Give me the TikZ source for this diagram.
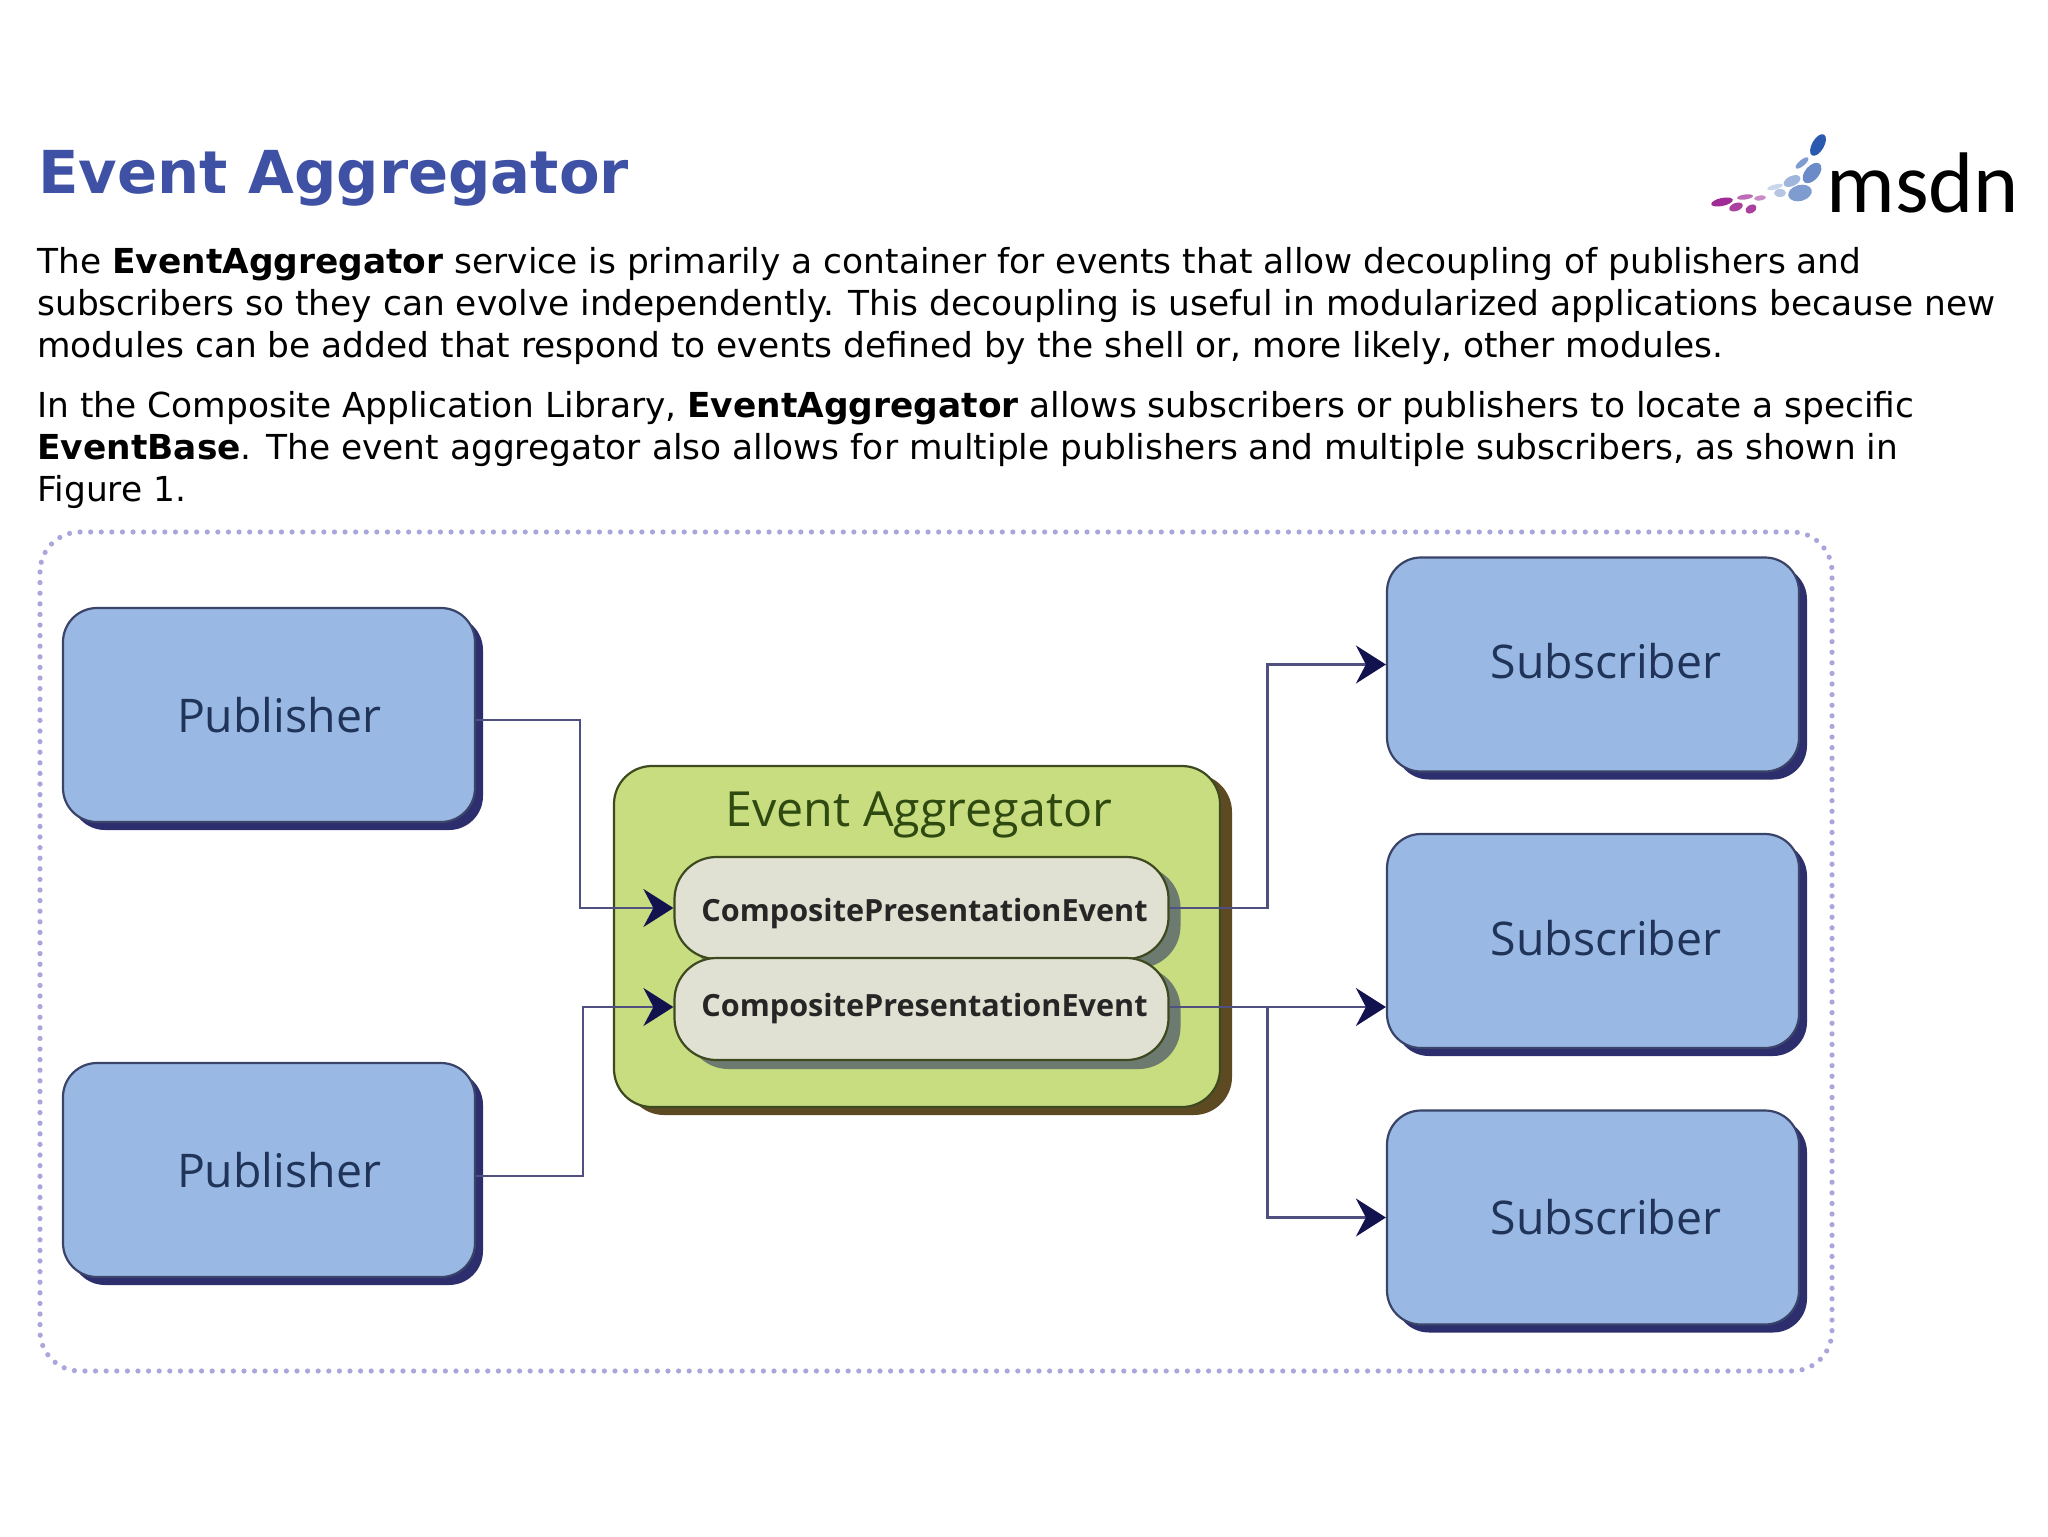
\documentclass[tikz,border=0pt]{standalone}
\usepackage{fontspec}
\setmainfont{DejaVu Sans}
\newfontfamily\boxfont{Open Sans}
\newfontfamily\logofont{Carlito}
\usetikzlibrary{arrows.meta,shadows}
\definecolor{titleblue}{HTML}{3F51A5}
\definecolor{framedot}{HTML}{A9A6DC}
\definecolor{boxblue}{HTML}{9AB8E4}
\definecolor{boxedge}{HTML}{3A4468}
\definecolor{boxshade}{HTML}{2C2E6E}
\definecolor{boxtext}{HTML}{1F3458}
\definecolor{aggfill}{HTML}{C8DC80}
\definecolor{aggedge}{HTML}{3D4A20}
\definecolor{aggshade}{HTML}{5E4A22}
\definecolor{aggtext}{HTML}{2F4A10}
\definecolor{evfill}{HTML}{E1E1D3}
\definecolor{evshade}{HTML}{6C7A70}
\definecolor{flowline}{HTML}{4F5080}
\definecolor{flowtip}{HTML}{12124F}
\definecolor{msdnblue}{HTML}{2A5AB0}
\definecolor{msdnpurple}{HTML}{A02B96}
\tikzset{
  actor/.style={draw=boxedge, line width=1.1pt, fill=boxblue, rounded corners=17pt, inner sep=0,
    minimum width=206pt, minimum height=107pt, text=boxtext, font=\boxfont\fontsize{23.2}{28}\selectfont,
    drop shadow={shadow xshift=4pt, shadow yshift=-4pt, opacity=1, fill=boxshade}},
  flow/.style={draw=flowline, line width=1.3pt, -{Stealth[length=15pt, width=19pt, inset=5pt, color=flowtip]}},
  para/.style={anchor=west, align=left, inner sep=0, font=\fontsize{17.2}{21}\selectfont}
}
\begin{document}
\begin{tikzpicture}[x=0.5pt, y=-0.5pt]
    \useasboundingbox (0, 0) rectangle (2048, 1536);
    \node (title) [anchor=base west, inner sep=0, text=titleblue, font=\bfseries\fontsize{29.6}{36}\selectfont] at (38, 193) {Event Aggregator};
    \node (intro) [para] at (37, 306) {The \textbf{EventAggregator} service is primarily a container for events that allow decoupling of publishers and\\
      subscribers so they can evolve independently. This decoupling is useful in modularized applications because new\\
      modules can be added that respond to events defined by the shell or, more likely, other modules.};
    \node (more) [para] at (37, 450) {In the Composite Application Library, \textbf{EventAggregator} allows subscribers or publishers to locate a specific\\
      \textbf{EventBase}. The event aggregator also allows for multiple publishers and multiple subscribers, as shown in\\
      Figure 1.};
    % logo
    \foreach \x/\y/\rx/\ry/\a/\c in {
      1818/145/12/6/60/msdnblue, 1802/163/8/3/40/msdnblue!60!white, 1812/173/12/7/50/msdnblue!70!white,
      1792/181/9/5/25/msdnblue!45!white, 1775/187/8/2.5/15/msdnblue!25!white, 1800/193/12/8/15/msdnblue!60!white,
      1780/193/6/4/0/msdnblue!35!white, 1722/202/11/4/12/msdnpurple, 1745/197/8/2.5/8/msdnpurple!70!white,
      1760/198/6/2.5/8/msdnpurple!55!white, 1736/207/7/4/20/msdnpurple!90!white, 1751/209/6/4/30/msdnpurple!90!white}
    \fill[\c, rotate around={\a:(\x, \y)}] (\x, \y) ellipse ({\rx*0.5pt} and {\ry*0.5pt});
    \node (logo) [anchor=base west, inner sep=0, font=\logofont\fontsize{43}{48}\selectfont] at (1826, 212) {msdn};
    % figure
    \draw[framedot, line width=2.6pt, dash pattern=on 0pt off 5.3pt, line cap=round, rounded corners=20pt] (40, 532) rectangle (1832, 1371);
    \node (pub1) [actor] at (269, 715) {\hspace{10pt}Publisher};
    \node (pub2) [actor] at (269, 1170) {\hspace{10pt}Publisher};
    \node (sub1) [actor] at (1593, 664.5) {\hspace{13pt}\raisebox{1.6pt}[\height][\depth]{Subscriber}};
    \node (sub2) [actor] at (1593, 941) {\hspace{13pt}\raisebox{1.6pt}[\height][\depth]{Subscriber}};
    \node (sub3) [actor] at (1593, 1217.5) {\hspace{13pt}Subscriber};
    \node (agg) [draw=aggedge, line width=1.1pt, fill=aggfill, rounded corners=19pt, inner sep=0, minimum width=303pt, minimum height=170.5pt,
      drop shadow={shadow xshift=6pt, shadow yshift=-4pt, opacity=1, fill=aggshade}] at (917, 936.5) {};
    \node (agglabel) [text=aggtext, inner sep=0, font=\boxfont\fontsize{24.2}{28}\selectfont] at (919, 815) {Event Aggregator};
    \foreach \n/\y/\s in {ev1/908/-2.6, ev2/1009/0}
    \node (\n) [draw=aggedge, line width=1.1pt, fill=evfill, rounded corners=21pt, inner sep=0, minimum width=247pt, minimum height=51pt,
      text=black!85, font=\boxfont\bfseries\fontsize{15.3}{18}\selectfont,
      drop shadow={shadow xshift=6pt, shadow yshift=-4.5pt, opacity=1, fill=evshade}] at (921.5, \y) {\hspace{3pt}\raisebox{\s pt}[\height][\depth]{CompositePresentationEvent}};
    \draw[flow] ([yshift=-2.5pt]pub1.east) -- ++(104, 0) |- (ev1.west);
    \draw[flow] ([yshift=-3pt]pub2.east) -- ++(107, 0) |- ([yshift=1pt]ev2.west);
    \draw[flow] (ev1.east) -- ++(98, 0) |- (sub1.west);
    \draw[flow] ([yshift=1pt]ev2.east) -- ([yshift=1pt]ev2.east -| sub2.west);
    \draw[flow] ([yshift=1pt]ev2.east) -- ++(98, 0) |- (sub3.west);
  \end{tikzpicture}
\end{document}
